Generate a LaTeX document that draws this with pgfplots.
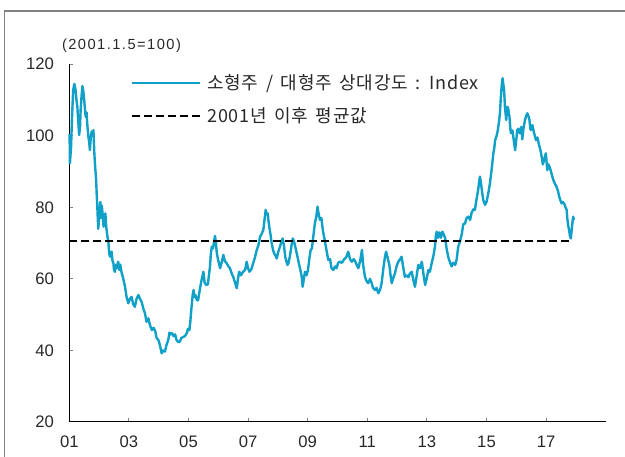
\documentclass[border=0pt]{standalone}
\usepackage{pgfplots}
\pgfplotsset{compat=1.18}
\usepackage{pgfplotstable}
\usepackage{fontspec}
\setmainfont{Liberation Sans}
\newfontfamily\kr[LetterSpace=4,WordSpace=1.6]{Noto Sans CJK KR}
\newfontfamily\titlefont[LetterSpace=10]{Liberation Sans}
\definecolor{lineblue}{RGB}{16,160,200}
\definecolor{txt}{RGB}{40,40,40}
\definecolor{framegray}{RGB}{130,130,130}
\pgfplotstableread{
x y
2001.01 100.5
2001.02 92.3
2001.06 97
2001.09 105
2001.13 112.8
2001.17 114.5
2001.21 112.8
2001.24 110
2001.27 108.1
2001.30 104
2001.33 100.2
2001.36 102.5
2001.38 107.2
2001.41 111
2001.44 113.9
2001.47 112.5
2001.49 110.9
2001.53 107
2001.55 105.3
2001.58 106.5
2001.60 103.5
2001.64 99.8
2001.67 98
2001.69 96.0
2001.72 99.5
2001.75 101.2
2001.77 100
2001.81 101.6
2001.84 95.1
2001.87 91
2001.90 87.7
2001.92 83.5
2001.94 80.2
2001.97 74
2002.01 78
2002.04 81.5
2002.06 77
2002.09 80.5
2002.12 78
2002.15 74.6
2002.18 77.5
2002.21 78.3
2002.24 74.5
2002.28 71.8
2002.31 70.4
2002.34 67
2002.37 66.2
2002.40 67.5
2002.42 67.6
2002.45 65
2002.48 64.4
2002.50 62.5
2002.53 62.0
2002.57 64
2002.60 63
2002.64 64.8
2002.68 62.5
2002.71 64
2002.76 61.5
2002.80 60.5
2002.87 57.8
2002.92 55
2002.98 53.2
2003.04 54.5
2003.09 55.0
2003.14 53
2003.20 52.2
2003.26 54.5
2003.32 55.5
2003.37 54.5
2003.43 53.5
2003.49 51.5
2003.54 50.4
2003.59 48
2003.65 49.0
2003.71 47
2003.77 45.7
2003.83 46.3
2003.88 45.5
2003.93 43.5
2003.99 42.9
2004.04 41.5
2004.10 39.2
2004.15 40
2004.21 39.7
2004.26 41.5
2004.32 42.9
2004.36 45
2004.40 44.5
2004.45 44.8
2004.50 44
2004.55 44.5
2004.60 42.9
2004.66 42.3
2004.71 42.5
2004.76 43.5
2004.83 43.8
2004.88 44
2004.94 44.8
2004.98 46
2005.03 45.7
2005.06 48
2005.10 52
2005.14 55.5
2005.17 56.9
2005.20 55
2005.23 55.5
2005.28 54.1
2005.32 54
2005.35 55.5
2005.40 58
2005.44 59.7
2005.50 62.0
2005.54 59
2005.59 58.3
2005.65 58.5
2005.72 63.4
2005.75 67
2005.78 69.0
2005.82 68.5
2005.86 70.5
2005.89 72
2005.92 70
2005.95 67.2
2005.99 65.5
2006.06 63.0
2006.11 64.5
2006.17 66.7
2006.22 65
2006.28 64.4
2006.34 63.5
2006.39 63
2006.45 61.5
2006.50 60.6
2006.56 59
2006.62 57.4
2006.66 60
2006.70 62.0
2006.76 61
2006.83 62
2006.90 62.5
2006.95 64.8
2007.00 63
2007.04 62.0
2007.10 62.5
2007.17 64.4
2007.23 66
2007.29 68.1
2007.35 69.5
2007.40 71.8
2007.45 72.5
2007.51 73.7
2007.55 76.5
2007.59 79.3
2007.62 78
2007.66 78.3
2007.68 76.5
2007.71 74.6
2007.75 72.5
2007.79 70.0
2007.84 68
2007.87 67.2
2007.92 66.5
2007.96 65.7
2008.01 67.5
2008.07 69.0
2008.12 70.5
2008.16 71.3
2008.20 69.5
2008.25 66
2008.32 63.9
2008.36 64.5
2008.41 66.7
2008.46 69.5
2008.50 71.3
2008.54 70.5
2008.61 68
2008.68 65.3
2008.74 63
2008.80 60.6
2008.83 57.8
2008.87 60
2008.91 62.0
2008.96 61
2009.01 62.5
2009.06 66
2009.10 68.1
2009.14 68.5
2009.19 72
2009.24 75.5
2009.29 77.5
2009.33 80.2
2009.36 78.5
2009.41 76.5
2009.46 77
2009.51 73.5
2009.58 70.4
2009.63 68
2009.69 65.3
2009.75 65.5
2009.80 63
2009.86 62.5
2009.92 63.5
2009.97 63
2010.02 64.5
2010.08 64.8
2010.15 64.5
2010.22 65.5
2010.29 66
2010.36 67.6
2010.42 65.5
2010.48 64.8
2010.54 65.5
2010.59 65
2010.64 64
2010.70 63.0
2010.76 65
2010.82 68.1
2010.86 64
2010.92 60.6
2010.97 59.5
2011.03 58.8
2011.09 60
2011.14 59
2011.19 57.5
2011.26 56.9
2011.31 57.5
2011.37 56.0
2011.43 57
2011.48 58.8
2011.54 63
2011.59 66
2011.63 67.6
2011.68 66
2011.74 63.9
2011.78 61
2011.82 58.8
2011.88 60.5
2011.93 61.6
2011.98 63.5
2012.04 64.8
2012.10 65.5
2012.15 66.2
2012.20 63.5
2012.26 60.6
2012.31 61
2012.38 60.5
2012.43 61.5
2012.49 62.0
2012.55 59.5
2012.60 57.8
2012.65 60.5
2012.71 63.9
2012.77 63
2012.83 64.8
2012.89 61
2012.94 58.3
2012.99 60
2013.05 62.5
2013.10 62
2013.16 64.4
2013.22 66.5
2013.27 69.0
2013.30 72
2013.33 73.2
2013.37 71.5
2013.42 73
2013.47 71.5
2013.52 73.2
2013.56 72.5
2013.61 71.5
2013.66 68.5
2013.72 66
2013.78 64.5
2013.83 63.5
2013.88 64.5
2013.95 63.9
2014.00 65.5
2014.05 69.0
2014.11 70.5
2014.17 72.5
2014.22 75.3
2014.28 75.5
2014.33 77
2014.39 77.4
2014.45 76.5
2014.50 78.5
2014.56 79.5
2014.61 79.3
2014.66 82
2014.72 84.9
2014.75 87
2014.78 88.6
2014.81 87
2014.85 84.5
2014.89 82.1
2014.95 80.7
2015.00 81.5
2015.06 83.9
2015.12 87
2015.17 90.4
2015.23 95.1
2015.26 96.5
2015.29 98.8
2015.34 100
2015.38 101.6
2015.42 104
2015.45 106.3
2015.49 111.9
2015.52 115
2015.54 116.1
2015.57 114
2015.59 112.8
2015.62 108
2015.66 104.4
2015.70 108.1
2015.73 107.5
2015.77 105.3
2015.80 102
2015.82 100.7
2015.87 101.5
2015.91 99
2015.96 96.0
2016.00 99
2016.03 101.6
2016.07 102
2016.12 100.7
2016.17 102.5
2016.20 99
2016.24 102
2016.29 104.4
2016.33 105.5
2016.37 106.3
2016.41 105.5
2016.44 104.5
2016.47 102
2016.49 101.6
2016.54 103
2016.59 101
2016.66 98.8
2016.71 99.5
2016.76 97.5
2016.81 96
2016.85 94.2
2016.89 92
2016.94 93.5
2016.99 95.1
2017.04 90.4
2017.08 92
2017.13 91
2017.18 89.5
2017.24 87.7
2017.30 86.5
2017.35 85.8
2017.40 84.5
2017.44 83.0
2017.48 82
2017.52 81.1
2017.56 81.5
2017.61 81
2017.65 80
2017.69 79.3
2017.71 77
2017.74 75
2017.77 73.7
2017.80 72
2017.83 71.3
2017.85 73
2017.88 75.5
2017.91 77.4
2017.93 76.5
}\ratio
\pgfplotstableread{
x y
2001.0 70.6
2017.9 70.6
}\avgline
\begin{document}
\begin{tikzpicture}
\useasboundingbox (0,0) rectangle (468.75pt,342.75pt);
\draw[framegray,line width=1.5pt] (3pt,334.7pt) -- (468.75pt,334.7pt);
\draw[framegray,line width=0.75pt] (3pt,0pt) -- (3pt,335.45pt);
\begin{axis}[
  at={(51.98pt,26.25pt)}, anchor=south west,
  scale only axis, width=402.3pt, height=268.3pt,
  xmin=2001, xmax=2019, ymin=20, ymax=120,
  axis x line*=bottom, axis y line*=left,
  axis line style={black, line width=0.75pt},
  xtick={2001,2003,...,2017},
  xticklabels={01,03,05,07,09,11,13,15,17},
  ytick={20,40,...,120},
  tick align=inside,
  major tick length=3pt,
  tick style={gray, line width=0.75pt},
  yticklabel style={font=\fontsize{12.5}{14}\selectfont, text=txt, xshift=-8pt},
  xticklabel style={font=\fontsize{12.5}{14}\selectfont, text=txt, yshift=-7pt},
  /pgf/number format/assume math mode=true,
  legend image code/.code={\draw[#1] (0pt,0pt) -- (51pt,0pt);},
  legend cell align=left,
  legend style={at={(axis cs:2003.06,117.6)}, anchor=north west,
    draw=none, fill=none, inner sep=0pt,
    row sep=10pt,
    font=\kr\fontsize{13.5}{15}\selectfont, text=txt,
    nodes={inner sep=1pt},
    /tikz/every odd column/.append style={column sep=3.5pt}},
  clip=false,
]
\addplot[lineblue, line width=1.8pt, line join=round] table[x=x,y=y] {\ratio};
\addlegendentry{소형주 / 대형주 상대강도 : Index}
\addplot[black, line width=1.8pt, dash pattern=on 6pt off 3pt] table[x=x,y=y] {\avgline};
\addlegendentry{2001년 이후 평균값}
\end{axis}
\node[anchor=west, inner sep=0pt, text=txt, font=\titlefont\fontsize{11}{13}\selectfont] at (46.3pt,308.25pt) {(2001.1.5=100)};
\end{tikzpicture}
\end{document}
